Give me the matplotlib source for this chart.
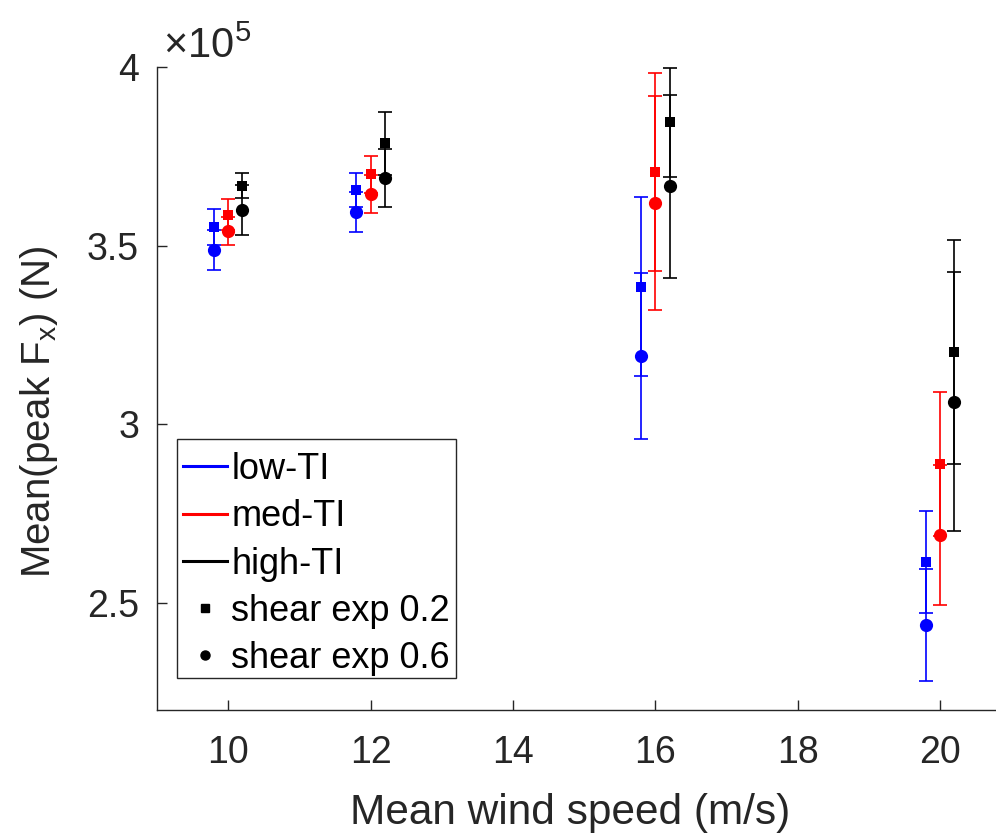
import numpy as np
import matplotlib
matplotlib.use("Agg")
import matplotlib.pyplot as plt
from matplotlib.lines import Line2D
from matplotlib.patches import Rectangle

plt.rcParams['font.family'] = ['Liberation Sans', 'DejaVu Sans']
plt.rcParams['mathtext.fontset'] = 'custom'
plt.rcParams['mathtext.rm'] = 'Liberation Sans'
plt.rcParams['mathtext.it'] = 'Liberation Sans'

# ---- data (values in N) ----
wind_speeds = [10, 12, 16, 20]
ti_labels = ['low-TI', 'med-TI', 'high-TI']
ti_colors = ['#0000ff', '#ff0000', '#000000']
ti_offsets = [-0.2, 0.0, 0.2]

# shear exponent 0.2 (squares)
low_s02 = [3.552e5, 3.656e5, 3.385e5, 2.615e5]
low_s02_err = [0.050e5, 0.047e5, 0.250e5, 0.143e5]
med_s02 = [3.587e5, 3.700e5, 3.706e5, 2.888e5]
med_s02_err = [0.044e5, 0.052e5, 0.278e5, 0.202e5]
high_s02 = [3.668e5, 3.787e5, 3.845e5, 3.203e5]
high_s02_err = [0.036e5, 0.088e5, 0.153e5, 0.314e5]

# shear exponent 0.6 (circles)
low_s06 = [3.489e5, 3.593e5, 3.191e5, 2.437e5]
low_s06_err = [0.056e5, 0.056e5, 0.233e5, 0.157e5]
med_s06 = [3.540e5, 3.645e5, 3.619e5, 2.691e5]
med_s06_err = [0.039e5, 0.054e5, 0.300e5, 0.196e5]
high_s06 = [3.599e5, 3.689e5, 3.666e5, 3.063e5]
high_s06_err = [0.070e5, 0.082e5, 0.256e5, 0.362e5]

s02 = [(low_s02, low_s02_err), (med_s02, med_s02_err), (high_s02, high_s02_err)]
s06 = [(low_s06, low_s06_err), (med_s06, med_s06_err), (high_s06, high_s06_err)]

x_ticks = [10, 12, 14, 16, 18, 20]
y_ticks = [2.5e5, 3.0e5, 3.5e5, 4.0e5]
y_tick_labels = ['2.5', '3', '3.5', '4']

W, H = 996, 834
fig = plt.figure(figsize=(W / 100, H / 100), dpi=100)
ax_l, ax_b, ax_t, ax_r = 157, 710, 67, 996
ax = fig.add_axes([ax_l / W, 1 - ax_b / H, (ax_r - ax_l) / W, (ax_b - ax_t) / H])

def axx(px):
    return (px - ax_l) / (ax_r - ax_l)

def axy(py):
    return (ax_b - py) / (ax_b - ax_t)

axcol = '#262626'
ws = np.array(wind_speeds, dtype=float)
for i in range(3):
    col = ti_colors[i]
    xs = ws + ti_offsets[i]
    for (v, e), mk, ms in [(s02[i], 's', 7.5), (s06[i], 'o', 9.5)]:
        ax.errorbar(xs, v, yerr=e, fmt='none', ecolor=col, elinewidth=1.2,
                    capsize=5, capthick=1.2, zorder=2)
        ax.plot(xs, v, ls='none', marker=mk, color=col, markersize=ms,
                markeredgewidth=0, zorder=3)

ax.set_xlim(9, 9 + (ax_r - ax_l) / 71.2)
ax.set_ylim(2.2e5, 4.0e5)
ax.set_xticks(x_ticks)
ax.set_yticks(y_ticks)
ax.set_yticklabels(y_tick_labels)

for s in ['top', 'right']:
    ax.spines[s].set_visible(False)
for s in ['left', 'bottom']:
    ax.spines[s].set_color(axcol)
    ax.spines[s].set_linewidth(1.0)
ax.tick_params(direction='in', length=7, width=1.0, colors=axcol,
               labelsize=27, labelcolor=axcol)
ax.tick_params(axis='x', pad=18)
ax.tick_params(axis='y', pad=13)

ax.set_xlabel('Mean wind speed (m/s)', fontsize=30.5, color=axcol)
ax.xaxis.set_label_coords(axx(570), axy(793))
ax.set_ylabel(r'Mean(peak F$_\mathregular{x}$) (N)', fontsize=29, color=axcol)
ax.yaxis.set_label_coords(axx(60), axy(412))

ax.text(0.007, 1.0, r'$\times$10$^{5}$', transform=ax.transAxes,
        fontsize=30, color=axcol, ha='left', va='bottom')

# legend
handles = [Line2D([0], [0], color=c, lw=2.2) for c in ti_colors]
handles += [Line2D([0], [0], ls='none', marker='s', color='k', markersize=5.5),
            Line2D([0], [0], ls='none', marker='o', color='k', markersize=6.5)]
labels = ti_labels + ['shear exp 0.2', 'shear exp 0.6']
fs = 26.0
leg = ax.legend(handles, labels, loc='upper left',
                bbox_to_anchor=(axx(183), axy(452)),
                borderaxespad=0, fontsize=fs, frameon=False,
                handlelength=44 / (fs * 100 / 72), handletextpad=0.12,
                borderpad=0.0, labelspacing=0.34)
for t in leg.get_texts():
    t.set_color('#000000')
frame = Rectangle((axx(177), axy(678)), axx(456) - axx(177), axy(439) - axy(678),
                  transform=ax.transAxes, facecolor='white', edgecolor=axcol,
                  linewidth=1.0, clip_on=False, zorder=4)
ax.add_patch(frame)
leg.set_zorder(5)

fig.savefig('out.png', dpi=100)
